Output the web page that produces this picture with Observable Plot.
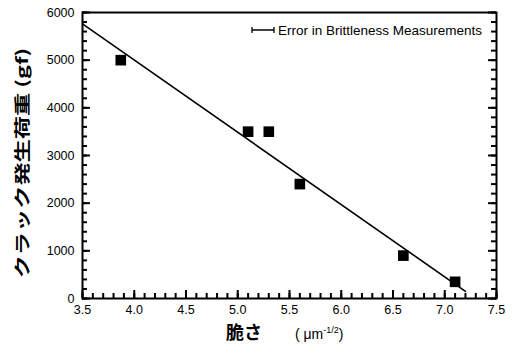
<!DOCTYPE html>
<html>
<head>
<meta charset="utf-8">
<script src="https://cdn.jsdelivr.net/npm/d3@7"></script>
<script src="https://cdn.jsdelivr.net/npm/@observablehq/plot@0.6"></script>
<style>
  html, body { margin: 0; padding: 0; background: #fff; }
  #chart svg { display: block; }
</style>
</head>
<body>
<div id="chart"></div>
<script>
// Data
const brittleness = [3.87, 5.1, 5.3, 5.6, 6.6, 7.1];
const crackLoad = [5000, 3500, 3500, 2400, 900, 350];
const fitX = [3.5, 7.2];
const fitY = [5760, 150];
const xTicks = [3.5, 4.0, 4.5, 5.0, 5.5, 6.0, 6.5, 7.0, 7.5];
const yTicks = [0, 1000, 2000, 3000, 4000, 5000, 6000];
const xMinor = d3.range(35, 76, 1).map(v => v / 10);
const yMinor = d3.range(0, 6001, 200);
const yTitle = "クラック発生荷重 (gf)";
const xTitle = "脆さ";
const legendLabel = "Error in Brittleness Measurements";

const points = brittleness.map((x, i) => ({x, y: crackLoad[i]}));
const fit = fitX.map((x, i) => ({x, y: fitY[i]}));

const W = 514, H = 353, mL = 82, mR = 18, mT = 12, mB = 55;
const plotW = W - mL - mR, plotH = H - mT - mB;
const xDom = [3.5, 7.5], yDom = [0, 6000];
const ink = "#000";

// tick lengths in pixels, converted to data units for rule marks
const pxX = (xDom[1] - xDom[0]) / plotW;
const pxY = (yDom[1] - yDom[0]) / plotH;
const minorLen = 5, majorLen = 8;

const chart = Plot.plot({
  width: W,
  height: H,
  marginLeft: mL,
  marginRight: mR,
  marginTop: mT,
  marginBottom: mB,
  style: {fontFamily: "'Liberation Sans', Arial, sans-serif", background: "#fff", color: "#000"},
  x: {domain: xDom},
  y: {domain: yDom},
  marks: [
    // bottom inward ticks
    Plot.ruleX(xMinor, {x: d => d, y1: yDom[0], y2: yDom[0] + minorLen * pxY, stroke: ink, strokeWidth: 2}),
    Plot.ruleX(xTicks, {x: d => d, y1: yDom[0], y2: yDom[0] + majorLen * pxY, stroke: ink, strokeWidth: 2}),
    // left inward ticks
    Plot.ruleY(yMinor, {y: d => d, x1: xDom[0], x2: xDom[0] + minorLen * pxX, stroke: ink, strokeWidth: 2}),
    Plot.ruleY(yTicks, {y: d => d, x1: xDom[0], x2: xDom[0] + majorLen * pxX, stroke: ink, strokeWidth: 2}),
    // right inward ticks
    Plot.ruleY(yMinor, {y: d => d, x1: xDom[1], x2: xDom[1] - minorLen * pxX, stroke: ink, strokeWidth: 2}),
    Plot.ruleY(yTicks, {y: d => d, x1: xDom[1], x2: xDom[1] - majorLen * pxX, stroke: ink, strokeWidth: 2}),
    Plot.axisX(xTicks, {tickSize: 0, tickPadding: 7, label: null, fontSize: 12.5, tickFormat: d3.format(".1f")}),
    Plot.axisY(yTicks, {tickSize: 0, tickPadding: 8, label: null, fontSize: 12.5, tickFormat: d => String(d)}),
    Plot.frame({stroke: ink, strokeWidth: 2}),
    Plot.line(fit, {x: "x", y: "y", stroke: ink, strokeWidth: 1.6}),
    Plot.dot(points, {x: "x", y: "y", symbol: "square", r: 6, fill: ink, stroke: "none"})
  ]
});

document.getElementById("chart").appendChild(chart);

const svg = d3.select(chart);
const cjk = "'Noto Sans CJK JP', 'Noto Sans CJK SC', sans-serif";
const latin = "'Liberation Sans', Arial, sans-serif";

// Y title (rotated, stretched along text direction)
svg.append("text")
  .attr("transform", "translate(28,163) rotate(-90) scale(1.45,1)")
  .attr("text-anchor", "middle")
  .attr("font-family", cjk)
  .attr("font-weight", "bold")
  .attr("font-size", 16)
  .attr("fill", ink)
  .text(yTitle);

// X title
const xt = svg.append("text")
  .attr("x", 226)
  .attr("y", 339)
  .attr("text-anchor", "start")
  .attr("fill", ink);
xt.append("tspan")
  .attr("font-family", cjk)
  .attr("font-weight", "bold")
  .attr("font-size", 18)
  .text(xTitle);
xt.append("tspan")
  .attr("x", 295)
  .attr("font-family", latin)
  .attr("font-size", 14)
  .text("( μm");
xt.append("tspan")
  .attr("dy", -6)
  .attr("font-family", latin)
  .attr("font-size", 9)
  .text("-1/2");
xt.append("tspan")
  .attr("dy", 6)
  .attr("font-family", latin)
  .attr("font-size", 14)
  .text(")");

// Legend
const lg = svg.append("g").attr("transform", "translate(252,30)");
lg.append("path")
  .attr("d", "M0,0H22M0,-3V3M22,-3V3")
  .attr("stroke", ink)
  .attr("stroke-width", 1.3)
  .attr("fill", "none");
lg.append("text")
  .attr("x", 26)
  .attr("y", 0)
  .attr("dy", "0.35em")
  .attr("text-anchor", "start")
  .attr("font-family", latin)
  .attr("font-size", 13.5)
  .attr("fill", ink)
  .text(legendLabel);
</script>
</body>
</html>
